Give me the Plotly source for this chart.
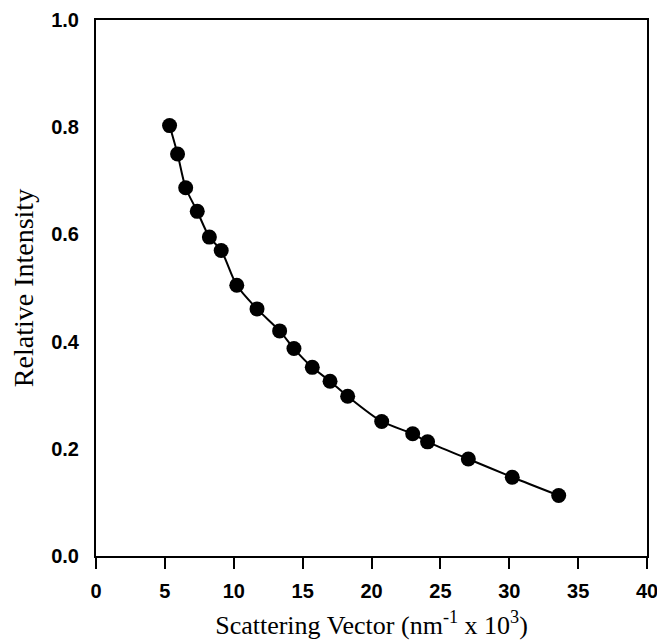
import plotly.graph_objects as go

# Scattering vector (nm^-1 x 10^3) and relative intensity
scattering_vector = [5.34, 5.92, 6.51, 7.35, 8.23, 9.09, 10.22, 11.69, 13.33, 14.37,
                     15.70, 16.99, 18.27, 20.74, 22.99, 24.07, 27.03, 30.22, 33.59]
relative_intensity = [0.803, 0.750, 0.687, 0.643, 0.595, 0.570, 0.505, 0.461, 0.420, 0.387,
                      0.352, 0.326, 0.298, 0.251, 0.228, 0.213, 0.181, 0.147, 0.113]

x_ticks = [0, 5, 10, 15, 20, 25, 30, 35, 40]
y_ticks = [0.0, 0.2, 0.4, 0.6, 0.8, 1.0]

fig = go.Figure()

# smooth curve through the measurements
fig.add_trace(go.Scatter(
    x=scattering_vector, y=relative_intensity,
    mode="lines",
    line=dict(color="black", width=2, shape="spline", smoothing=0.8),
    hoverinfo="skip", showlegend=False,
))

# measured points
fig.add_trace(go.Scatter(
    x=scattering_vector, y=relative_intensity,
    mode="markers",
    marker=dict(color="black", size=15, line=dict(width=0)),
    showlegend=False,
))

tick_font = dict(family="Liberation Sans, Arial, sans-serif", size=20, color="black", weight="bold")
serif = "Liberation Serif, Times New Roman, serif"

fig.update_layout(
    width=657, height=644,
    margin=dict(l=96, r=10, t=20, b=88),
    paper_bgcolor="white", plot_bgcolor="white",
    xaxis=dict(
        range=[0, 40], tickvals=x_ticks, ticktext=[str(v) for v in x_ticks],
        ticks="outside", ticklen=11, tickwidth=2, tickcolor="black",
        showline=True, linewidth=2, linecolor="black", mirror=True,
        showgrid=False, zeroline=False, automargin=False,
        tickfont=tick_font, ticklabelstandoff=5, ticklabeloverflow="allow",
        title=dict(text="Scattering Vector (nm<sup>-1</sup> x 10<sup>3</sup>)",
                   font=dict(family=serif, size=26, color="black"), standoff=15),
    ),
    yaxis=dict(
        range=[0, 1.0], tickvals=y_ticks, ticktext=[f"{v:.1f}" for v in y_ticks],
        ticks="", showline=True, linewidth=2, linecolor="black", mirror=True,
        showgrid=False, zeroline=False, automargin=False,
        tickfont=tick_font, ticklabelstandoff=11,
        title=dict(text="Relative Intensity",
                   font=dict(family=serif, size=28, color="black"), standoff=9),
    ),
)

fig.write_html("out.html")
